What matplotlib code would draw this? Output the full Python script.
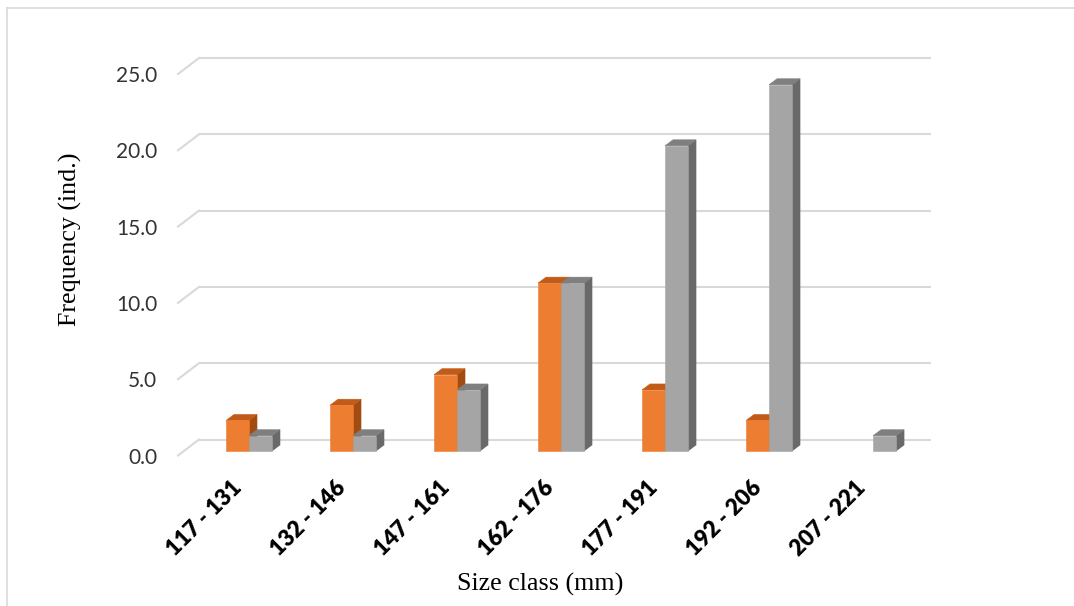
import matplotlib.pyplot as plt
from matplotlib.lines import Line2D
from matplotlib.transforms import ScaledTranslation
import numpy as np

# --- Data --------------------------------------------------------------------
size_classes = ["117 - 131", "132 - 146", "147 - 161", "162 - 176",
                "177 - 191", "192 - 206", "207 - 221"]
orange_counts = [2, 3, 5, 11, 4, 2, 0]
gray_counts = [1, 1, 4, 11, 20, 24, 1]
y_ticks = [0, 5, 10, 15, 20, 25]
# -----------------------------------------------------------------------------

ORANGE = ("#ED7D31", "#C25B17", "#A34C12")   # front, top, side
GRAY = ("#A5A5A5", "#7F7F7F", "#696969")
GRID = "#D9D9D9"

W, H, DPI = 1074, 606, 100
fig = plt.figure(figsize=(W / DPI, H / DPI), dpi=DPI)

# front plane of the 3-D box, in pixels
left, right, top, bottom = 178, 910, 74, 455.5
ax = fig.add_axes([left / W, 1 - bottom / H, (right - left) / W, (bottom - top) / H])
xlim = (-0.625, 6.413)
ax.set_xlim(*xlim)
ax.set_ylim(0, 25)
for s in ax.spines.values():
    s.set_visible(False)

# pixel -> data unit helpers
ppx = (right - left) / (xlim[1] - xlim[0])
ppy = (bottom - top) / 25.0
def dx(px): return px / ppx
def dy(px): return px / ppy

# back-wall gridlines with the little diagonal floor/side edge
back_dx, back_dy = dx(21), dy(16)
for v in y_ticks:
    ax.plot([xlim[0] + back_dx, xlim[1] + back_dx], [v + back_dy, v + back_dy],
            color=GRID, lw=1.5, zorder=1, clip_on=False, solid_capstyle="butt")
    ax.plot([xlim[0], xlim[0] + back_dx], [v, v + back_dy],
            color=GRID, lw=1.5, zorder=1, clip_on=False)

# 3-D bars
bar_w = dx(23)
off_x, off_y = dx(6), dy(4.5)      # front face of bars vs front plane
dep_x, dep_y = dx(8), dy(6)        # bar depth


def draw_bar(x0, h, cols, z):
    if h <= 0:
        return
    x1 = x0 + bar_w
    y0 = off_y
    y1 = off_y + h
    kw = dict(clip_on=False, zorder=z, lw=0.4)
    ax.fill([x1, x1 + dep_x, x1 + dep_x, x1], [y0, y0 + dep_y, y1 + dep_y, y1],
            color=cols[2], **kw)
    ax.fill([x0, x1, x1 + dep_x, x0 + dep_x], [y1, y1, y1 + dep_y, y1 + dep_y],
            color=cols[1], **kw)
    ax.fill([x0, x1, x1, x0], [y0, y0, y1, y1], color=cols[0], **kw)


x = np.arange(len(size_classes))
for i in x:
    draw_bar(i + off_x - bar_w, orange_counts[i], ORANGE, 3 + 2 * i)
    draw_bar(i + off_x, gray_counts[i], GRAY, 4 + 2 * i)

# ticks
ax.set_yticks(y_ticks)
ax.set_yticklabels([f"{v:.1f}" for v in y_ticks], fontsize=15, family="Lato",
                   color="#333333")
ax.tick_params(axis="y", length=0, pad=15)
ax.set_xticks(x)
ax.set_xticklabels(size_classes, rotation=45, ha="right", va="top",
                   rotation_mode="anchor", fontsize=16, family="Lato",
                   fontweight="heavy", color="black")
ax.tick_params(axis="x", length=0, pad=15.5)
shift = ScaledTranslation(-12 / DPI, 0, fig.dpi_scale_trans)
for lbl in ax.get_xticklabels():
    lbl.set_transform(lbl.get_transform() + shift)

# axis titles
fig.text(70 / W, 1 - 239.5 / H, "Frequency (ind.)", rotation=90, ha="center",
         va="center", fontsize=18.7, family="Liberation Serif")
fig.text(540.5 / W, 1 - 584 / H, "Size class (mm)", ha="center", va="center",
         fontsize=18.7, family="Liberation Serif")

# chart-area border (cropped at right and bottom)
fig.add_artist(Line2D([7.5 / W, 7.5 / W], [0, 1 - 7.5 / H], color=GRID, lw=1.2))
fig.add_artist(Line2D([7.5 / W, 1], [1 - 7.5 / H, 1 - 7.5 / H], color=GRID, lw=1.2))

fig.savefig("out.png", dpi=DPI)
